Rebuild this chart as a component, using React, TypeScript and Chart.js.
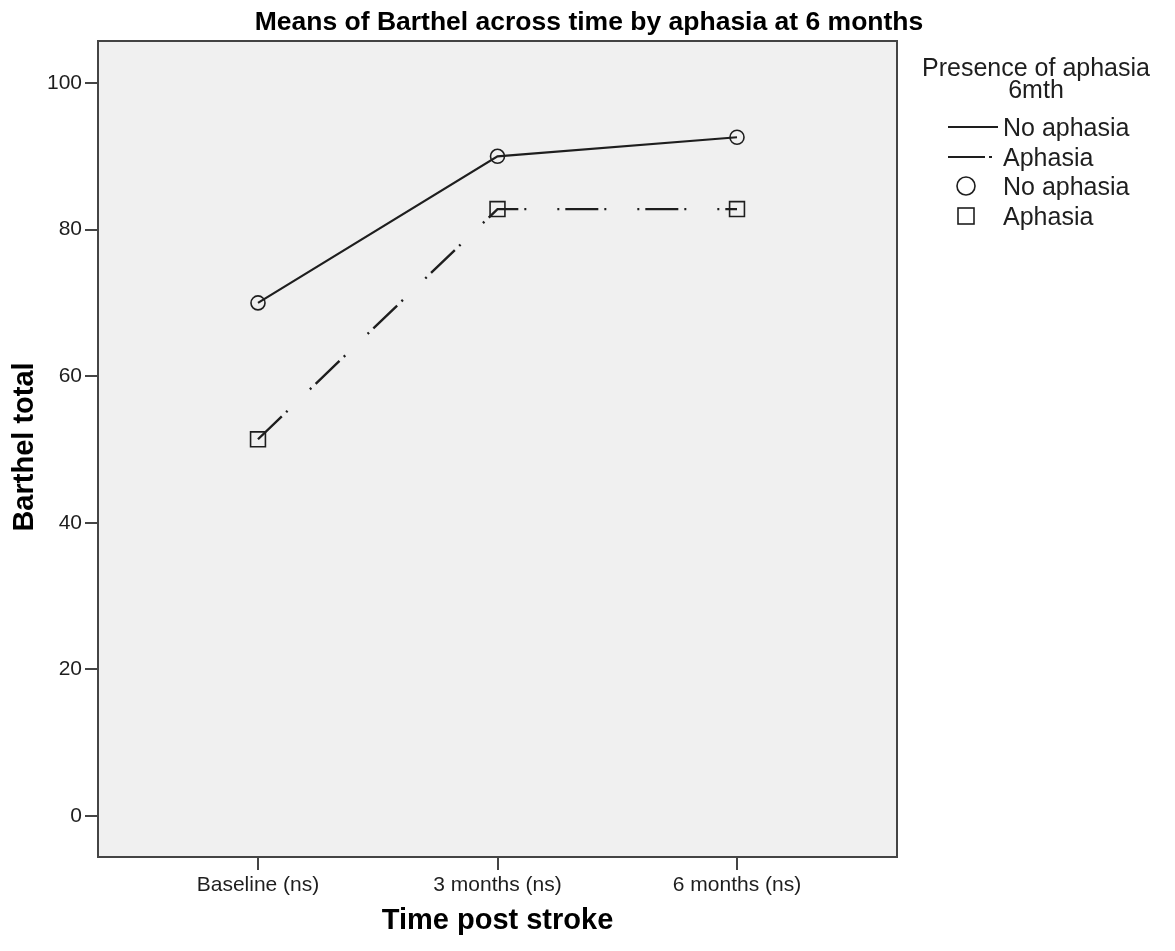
import React, { useEffect, useRef } from "react";
import { Chart, registerables } from "chart.js";

Chart.register(...registerables);

const categories = ["Baseline (ns)", "3 months (ns)", "6 months (ns)"];
const noAphasia = [70.0, 90.0, 92.6];
const aphasia = [51.4, 82.8, 82.8];
const yTicks = [0, 20, 40, 60, 80, 100];
const seriesNames = ["No aphasia", "Aphasia"];

const chartTitle = "Means of Barthel across time by aphasia at 6 months";
const xTitle = "Time post stroke";
const yTitle = "Barthel total";
const legendTitle = ["Presence of aphasia", "6mth"];

const FONT = "'Liberation Sans', Arial, sans-serif";
const INK = "#1e1e1e";
const DASH = [33, 6, 2, 31, 2, 6];

const decorPlugin = {
  id: "decor",
  beforeDraw(chart: any) {
    const { ctx, chartArea: a, width, height } = chart;
    ctx.save();
    ctx.fillStyle = "#ffffff";
    ctx.fillRect(0, 0, width, height);
    ctx.fillStyle = "#f0f0f0";
    ctx.fillRect(a.left, a.top, a.right - a.left, a.bottom - a.top);
    ctx.restore();
  },
  afterDraw(chart: any) {
    const { ctx, chartArea: a } = chart;
    ctx.save();
    // frame
    ctx.strokeStyle = "#444444";
    ctx.lineWidth = 2;
    ctx.strokeRect(a.left, a.top, a.right - a.left, a.bottom - a.top);

    // main title
    ctx.fillStyle = "#000";
    ctx.textAlign = "center";
    ctx.textBaseline = "alphabetic";
    ctx.font = `bold 26.5px ${FONT}`;
    ctx.fillText(chartTitle, 589, 30);

    // x title
    ctx.font = `bold 29px ${FONT}`;
    ctx.fillText(xTitle, (a.left + a.right) / 2, 929);

    // y title
    ctx.save();
    ctx.translate(33, 447);
    ctx.rotate(-Math.PI / 2);
    ctx.fillText(yTitle, 0, 0);
    ctx.restore();

    // legend
    ctx.fillStyle = INK;
    ctx.font = `25px ${FONT}`;
    ctx.textAlign = "center";
    ctx.fillText(legendTitle[0], 1036, 76);
    ctx.fillText(legendTitle[1], 1036, 98);
    ctx.textAlign = "left";
    const tx = 1003;
    const rows = [127, 157, 186, 216];
    ctx.fillText(seriesNames[0], tx, rows[0] + 9);
    ctx.fillText(seriesNames[1], tx, rows[1] + 9);
    ctx.fillText(seriesNames[0], tx, rows[2] + 9);
    ctx.fillText(seriesNames[1], tx, rows[3] + 9);

    ctx.strokeStyle = INK;
    ctx.lineWidth = 2;
    ctx.beginPath();
    ctx.moveTo(948, rows[0]);
    ctx.lineTo(998, rows[0]);
    ctx.stroke();
    ctx.beginPath();
    ctx.moveTo(948, rows[1]);
    ctx.lineTo(985, rows[1]);
    ctx.moveTo(989, rows[1]);
    ctx.lineTo(992, rows[1]);
    ctx.stroke();
    ctx.lineWidth = 1.6;
    ctx.beginPath();
    ctx.arc(966, rows[2], 9, 0, Math.PI * 2);
    ctx.stroke();
    ctx.strokeRect(958, rows[3] - 8, 16, 16);
    ctx.restore();
  },
};

export default function App() {
  const ref = useRef<HTMLCanvasElement | null>(null);

  useEffect(() => {
    if (!ref.current) return;
    const toPts = (arr: number[]) => arr.map((v, i) => ({ x: i, y: v }));
    const chart = new Chart(ref.current, {
      type: "line",
      data: {
        datasets: [
          {
            label: seriesNames[0],
            data: toPts(noAphasia),
            borderColor: INK,
            borderWidth: 2.2,
            pointStyle: "circle",
            pointRadius: 7,
            pointBorderWidth: 1.6,
            pointBorderColor: INK,
            pointBackgroundColor: "rgba(0,0,0,0)",
            tension: 0,
          },
          {
            label: seriesNames[1],
            data: toPts(aphasia),
            borderColor: INK,
            borderWidth: 2.4,
            borderDash: DASH,
            pointStyle: "rect",
            pointRadius: 10.5,
            pointBorderWidth: 1.6,
            pointBorderColor: INK,
            pointBackgroundColor: "rgba(0,0,0,0)",
            tension: 0,
          },
        ],
      },
      options: {
        responsive: false,
        animation: false,
        events: [],
        layout: { padding: { top: 41, right: 278, left: 0, bottom: 0 } },
        plugins: {
          legend: { display: false },
          title: { display: false },
          tooltip: { enabled: false },
        },
        scales: {
          x: {
            type: "linear",
            min: -0.668,
            max: 2.668,
            afterBuildTicks: (s: any) => {
              s.ticks = categories.map((_, i) => ({ value: i }));
            },
            afterFit: (s: any) => {
              s.height = 94;
            },
            ticks: {
              callback: (v: any) => categories[v as number] ?? "",
              font: { family: FONT, size: 21 },
              color: INK,
              padding: 3,
              maxRotation: 0,
              autoSkip: false,
            },
            grid: {
              drawOnChartArea: false,
              drawTicks: true,
              tickLength: 13,
              color: "#444444",
              lineWidth: 2,
            },
            border: { display: false },
          },
          y: {
            type: "linear",
            min: -5.59,
            max: 105.73,
            afterBuildTicks: (s: any) => {
              s.ticks = yTicks.map((v) => ({ value: v }));
            },
            afterFit: (s: any) => {
              s.width = 98;
            },
            ticks: {
              font: { family: FONT, size: 21 },
              color: INK,
              padding: 3,
            },
            grid: {
              drawOnChartArea: false,
              drawTicks: true,
              tickLength: 13,
              color: "#444444",
              lineWidth: 2,
            },
            border: { display: false },
          },
        },
      },
      plugins: [decorPlugin],
    });
    return () => chart.destroy();
  }, []);

  return (
    <div style={{ position: "absolute", left: 0, top: 0, width: 1175, height: 951 }}>
      <canvas ref={ref} width={1175} height={951} style={{ width: 1175, height: 951 }} />
    </div>
  );
}
